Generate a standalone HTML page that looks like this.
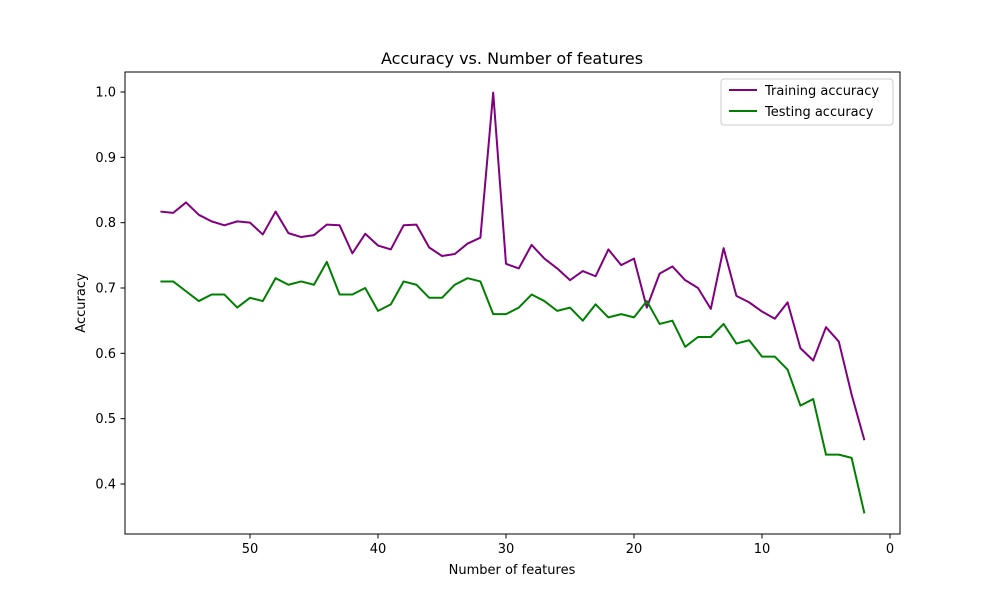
<!DOCTYPE html>
<html><head><meta charset="utf-8"><style>
body{margin:0;background:#fff;font-family:"Liberation Sans","DejaVu Sans",sans-serif}
svg text{font-family:"DejaVu Sans","Liberation Sans",sans-serif;fill:#000}
</style></head><body>
<svg id="chart" width="1000" height="600" xmlns="http://www.w3.org/2000/svg">
<rect width="1000" height="600" fill="#fff"/>
<text x="512" y="64" font-size="16" text-anchor="middle">Accuracy vs. Number of features</text>
<text x="512" y="574" font-size="13" text-anchor="middle">Number of features</text>
<text x="85" y="303" font-size="13" text-anchor="middle" transform="rotate(-90 85 303)">Accuracy</text>
<g id="ticks"></g>
<g id="series"></g>
<rect x="125" y="72" width="775" height="462" fill="none" stroke="#000" stroke-width="1"/>
<g>
<rect x="721" y="79" width="172" height="46" rx="3" fill="#fff" fill-opacity="0.8" stroke="#ccc"/>
<g>
<line x1="729" y1="90" x2="757" y2="90" stroke="purple" stroke-width="2"/>
<text x="765" y="95" font-size="13">Training accuracy</text></g>
<g>
<line x1="729" y1="111" x2="757" y2="111" stroke="green" stroke-width="2"/>
<text x="765" y="116" font-size="13">Testing accuracy</text></g>
</g>
</svg>
<script>
const features = [57,56,55,54,53,52,51,50,49,48,47,46,45,44,43,42,41,40,39,38,37,36,35,34,33,32,31,30,29,28,27,26,25,24,23,22,21,20,19,18,17,16,15,14,13,12,11,10,9,8,7,6,5,4,3,2];
const trainingAcc = [0.817,0.815,0.831,0.812,0.802,0.796,0.802,0.800,0.782,0.817,0.784,0.778,0.781,0.797,0.796,0.753,0.783,0.765,0.759,0.796,0.797,0.762,0.749,0.752,0.768,0.777,0.999,0.737,0.730,0.766,0.745,0.730,0.712,0.726,0.718,0.759,0.735,0.745,0.670,0.722,0.733,0.712,0.700,0.668,0.761,0.688,0.678,0.664,0.653,0.678,0.608,0.589,0.640,0.618,0.537,0.467];
const testingAcc = [0.71,0.71,0.695,0.68,0.69,0.69,0.67,0.685,0.68,0.715,0.705,0.71,0.705,0.74,0.69,0.69,0.70,0.665,0.675,0.71,0.705,0.685,0.685,0.705,0.715,0.71,0.66,0.66,0.67,0.69,0.68,0.665,0.67,0.65,0.675,0.655,0.66,0.655,0.68,0.645,0.65,0.61,0.625,0.625,0.645,0.615,0.62,0.595,0.595,0.575,0.52,0.53,0.445,0.445,0.44,0.355];
const xTicks = [50,40,30,20,10,0];
const yTicks = [0.4,0.5,0.6,0.7,0.8,0.9,1.0];
const NS='http://www.w3.org/2000/svg';
function xs(v){return 890-v*12.8;}
function ys(v){return 484-(v-0.4)*653.33;}
const tg=document.getElementById('ticks');
xTicks.forEach(t=>{
  const l=document.createElementNS(NS,'line');
  l.setAttribute('x1',xs(t));l.setAttribute('x2',xs(t));l.setAttribute('y1',534);l.setAttribute('y2',538.5);l.setAttribute('stroke','#000');
  
  
  tg.appendChild(l);
  const tx=document.createElementNS(NS,'text');
  tx.setAttribute('x',xs(t));tx.setAttribute('y',553);tx.setAttribute('font-size','13');tx.setAttribute('text-anchor','middle');
  tx.textContent=t;
  
  
  tg.appendChild(tx);
});
yTicks.forEach(t=>{
  const l=document.createElementNS(NS,'line');
  l.setAttribute('x1',120.5);l.setAttribute('x2',125);l.setAttribute('y1',ys(t));l.setAttribute('y2',ys(t));l.setAttribute('stroke','#000');
  
  
  tg.appendChild(l);
  const tx=document.createElementNS(NS,'text');
  tx.setAttribute('x',116);tx.setAttribute('y',ys(t)+4.5);tx.setAttribute('font-size','13');tx.setAttribute('text-anchor','end');
  tx.textContent=t.toFixed(1);
  
  
  tg.appendChild(tx);
});
const sg=document.getElementById('series');
function line(vals,color,name){
  const p=document.createElementNS(NS,'polyline');
  p.setAttribute('points',vals.map((v,i)=>xs(features[i])+','+ys(v)).join(' '));
  p.setAttribute('fill','none');p.setAttribute('stroke',color);p.setAttribute('stroke-width','2');p.setAttribute('stroke-linejoin','round');
  
  
  sg.appendChild(p);
}
line(trainingAcc,'purple','training-accuracy-line');
line(testingAcc,'green','testing-accuracy-line');
</script>
</body></html>
